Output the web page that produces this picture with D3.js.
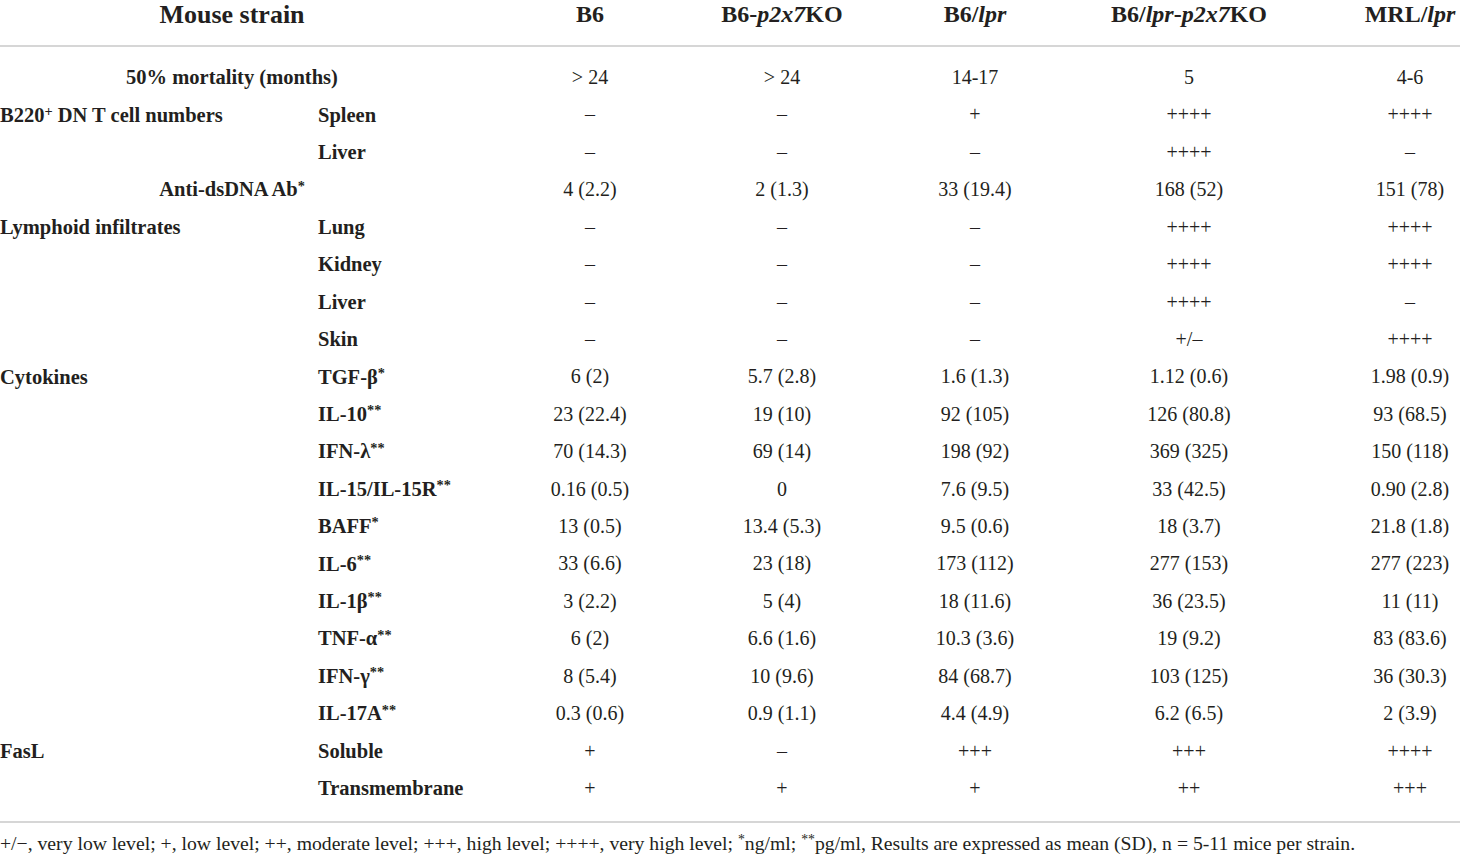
<!DOCTYPE html>
<html>
<head>
<meta charset="utf-8">
<script src="https://cdn.jsdelivr.net/npm/d3@7"></script>
<style>
  body { margin: 0; background: #fff; }
  svg text { font-family: "Liberation Serif", "Times New Roman", serif; fill: #231f20; }
</style>
</head>
<body>
<div id="chart"></div>
<script>
// strains across the top
const strains = ["B6", "B6-p2x7KO", "B6/lpr", "B6/lpr-p2x7KO", "MRL/lpr"]

// group label (left), sub label, centred label flag
const groups = ["", "B220^+^ DN T cell numbers", "", "", "Lymphoid infiltrates", "", "", "",
  "Cytokines", "", "", "", "", "", "", "", "", "", "FasL", ""]
const subLabels = ["50% mortality (months)", "Spleen", "Liver", "Anti-dsDNA Ab*", "Lung", "Kidney", "Liver", "Skin",
  "TGF-β*", "IL-10**", "IFN-λ**", "IL-15/IL-15R**", "BAFF*", "IL-6**", "IL-1β**", "TNF-α**", "IFN-γ**", "IL-17A**",
  "Soluble", "Transmembrane"]
const centredRows = [0, 3]

// one array per strain column
const b6 = ["> 24", "–", "–", "4 (2.2)", "–", "–", "–", "–", "6 (2)", "23 (22.4)", "70 (14.3)", "0.16 (0.5)",
  "13 (0.5)", "33 (6.6)", "3 (2.2)", "6 (2)", "8 (5.4)", "0.3 (0.6)", "+", "+"]
const b6p2x7 = ["> 24", "–", "–", "2 (1.3)", "–", "–", "–", "–", "5.7 (2.8)", "19 (10)", "69 (14)", "0",
  "13.4 (5.3)", "23 (18)", "5 (4)", "6.6 (1.6)", "10 (9.6)", "0.9 (1.1)", "–", "+"]
const b6lpr = ["14-17", "+", "–", "33 (19.4)", "–", "–", "–", "–", "1.6 (1.3)", "92 (105)", "198 (92)", "7.6 (9.5)",
  "9.5 (0.6)", "173 (112)", "18 (11.6)", "10.3 (3.6)", "84 (68.7)", "4.4 (4.9)", "+++", "+"]
const b6lprP2x7 = ["5", "++++", "++++", "168 (52)", "++++", "++++", "++++", "+/–", "1.12 (0.6)", "126 (80.8)",
  "369 (325)", "33 (42.5)", "18 (3.7)", "277 (153)", "36 (23.5)", "19 (9.2)", "103 (125)", "6.2 (6.5)", "+++", "++"]
const mrlLpr = ["4-6", "++++", "–", "151 (78)", "++++", "++++", "–", "++++", "1.98 (0.9)", "93 (68.5)", "150 (118)",
  "0.90 (2.8)", "21.8 (1.8)", "277 (223)", "11 (11)", "83 (83.6)", "36 (30.3)", "2 (3.9)", "++++", "+++"]

const footnote = "+/−, very low level; +, low level; ++, moderate level; +++, high level; ++++, very high level; *ng/ml; **pg/ml, Results are expressed as mean (SD), n = 5-11 mice per strain."

const columns = [b6, b6p2x7, b6lpr, b6lprP2x7, mrlLpr]

const width = 1460, height = 855

const svg = d3.select("#chart").append("svg")
  .attr("width", width)
  .attr("height", height)

let x = d3.scaleOrdinal()
  .domain(strains)
  .range([590, 782, 975, 1189, 1410])

let y = d3.scalePoint()
  .domain(d3.range(subLabels.length))
  .range([77, 788])

// write a string into a text element, italicising gene names and raising * and ^..^ parts
function rich (sel, str, italics) {
  let parts = str.split(/(\^[^^]+\^|\*+)/).filter(d => d !== "")
  let raised = false
  parts.forEach(p => {
    let sup = p[0] === "*" || p[0] === "^"
    let txt = p[0] === "^" ? p.slice(1, -1) : p
    let chunks = italics ? txt.split(/(p2x7|lpr)/).filter(d => d !== "") : [txt]
    chunks.forEach((c, i) => {
      let t = sel.append("tspan").text(c)
      if (italics && /^(p2x7|lpr)$/.test(c)) t.style("font-style", "italic")
      if (sup && i === 0) t.attr("dy", "-0.4em").style("font-size", "0.7em")
      else if (!sup && raised && i === 0) t.attr("dy", "0.28em")
    })
    raised = sup
  })
}

// header
svg.append("text")
  .attr("x", 232).attr("y", 14).attr("dy", "0.35em")
  .attr("text-anchor", "middle")
  .style("font-size", "26px").style("font-weight", "bold")
  .text("Mouse strain")

svg.selectAll("text.strain")
  .data(strains)
  .join("text")
  .attr("class", "strain")
  .attr("x", d => x(d)).attr("y", 14).attr("dy", "0.35em")
  .attr("text-anchor", "middle")
  .style("font-size", "24px").style("font-weight", "bold")
  .each(function (d) { rich(d3.select(this), d, true) })

// rules
svg.selectAll("line.rule")
  .data([46, 822])
  .join("line")
  .attr("class", "rule")
  .attr("x1", 0).attr("x2", width)
  .attr("y1", d => d).attr("y2", d => d)
  .attr("stroke", "#c9c9c9").attr("stroke-width", 1.5)

// row labels
svg.selectAll("text.group")
  .data(groups.map((g, i) => ({ g, i })).filter(d => d.g))
  .join("text")
  .attr("class", "group")
  .attr("x", 0).attr("y", d => y(d.i)).attr("dy", "0.35em")
  .style("font-size", "20.5px").style("font-weight", "bold")
  .each(function (d) { rich(d3.select(this), d.g, false) })

svg.selectAll("text.sub")
  .data(subLabels.map((s, i) => ({ s, i })))
  .join("text")
  .attr("class", "sub")
  .attr("x", d => centredRows.includes(d.i) ? 232 : 318)
  .attr("text-anchor", d => centredRows.includes(d.i) ? "middle" : "start")
  .attr("y", d => y(d.i)).attr("dy", "0.35em")
  .style("font-size", "20.5px").style("font-weight", "bold")
  .each(function (d) { rich(d3.select(this), d.s, false) })

// cells
columns.forEach((col, c) => {
  svg.append("g")
    .selectAll("text")
    .data(col)
    .join("text")
    .attr("x", x(strains[c]))
    .attr("y", (d, i) => y(i)).attr("dy", "0.35em")
    .attr("text-anchor", "middle")
    .style("font-size", "20px")
    .text(d => d)
})

// footnote
let foot = svg.append("text")
  .attr("x", 0).attr("y", 843).attr("dy", "0.35em")
  .style("font-size", "19.7px")
rich(foot, footnote, false)
</script>
</body>
</html>
